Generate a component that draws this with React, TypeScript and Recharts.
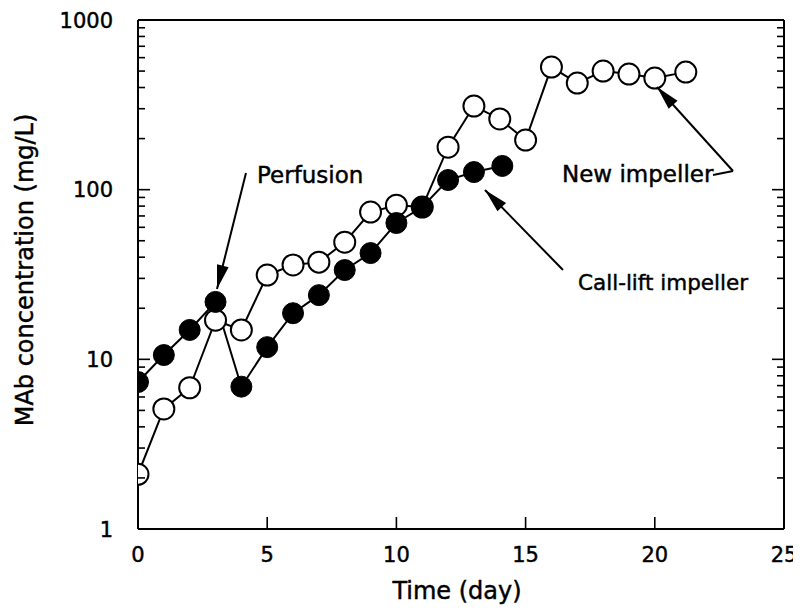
import React from "react";
import { LineChart, Line, XAxis, YAxis, ReferenceLine } from "recharts";

// Open circles ("New impeller" run)
const openDays = [0, 1, 2, 3, 4, 5, 6, 7, 8, 9, 10, 11, 12, 13, 14, 15, 16, 17, 18, 19, 20, 21.2];
const openValues = [2.1, 5.1, 6.8, 17, 14.9, 31.4, 36, 37.4, 49, 73.8, 81, 79, 178, 311, 261, 196, 528, 425, 500, 480, 455, 493];

// Filled circles ("Call-lift impeller" run)
const filledDays = [0, 1, 2, 3, 4, 5, 6, 7, 8, 9, 10, 11, 12, 13, 14.1];
const filledValues = [7.35, 10.6, 14.9, 21.8, 6.9, 11.8, 18.7, 23.9, 33.6, 42.3, 63.6, 79, 114, 127, 138];

const xTicks = [0, 5, 10, 15, 20, 25];
const yTicks = [
  1, 2, 3, 4, 5, 6, 7, 8, 9,
  10, 20, 30, 40, 50, 60, 70, 80, 90,
  100, 200, 300, 400, 500, 600, 700, 800, 900,
  1000,
];

const openData = openDays.map((d, i) => ({ day: d, v: openValues[i] }));
const filledData = filledDays.map((d, i) => ({ day: d, v: filledValues[i] }));

const FONT = "'DejaVu Sans', 'Liberation Sans', Arial, sans-serif";
const TXT = { fontFamily: FONT, fill: "#000", stroke: "#000", strokeWidth: 0.45 };

const isMajor = (v: number) => {
  const l = Math.log10(v);
  return Math.abs(l - Math.round(l)) < 1e-9;
};

const XTick = (props: any) => {
  const { x, y, payload } = props;
  const v = payload.value;
  const edge = v === 0 || v === 25;
  return (
    <g>
      {!edge && <line x1={x} y1={y} x2={x} y2={y - 12} stroke="#000" strokeWidth={1.6} />}
      <text x={x} y={y + 33} textAnchor="middle" fontSize={21} {...TXT}>
        {v}
      </text>
    </g>
  );
};

const YTickLeft = (props: any) => {
  const { x, y, payload } = props;
  const v = payload.value;
  const major = isMajor(v);
  const edge = v === 1 || v === 1000;
  return (
    <g>
      {!edge && <line x1={x} y1={y} x2={x + (major ? 12 : 7)} y2={y} stroke="#000" strokeWidth={1.6} />}
      {major && (
        <text x={x - 25} y={y + 7.5} textAnchor="end" fontSize={21} {...TXT}>
          {v}
        </text>
      )}
    </g>
  );
};

const YTickRight = (props: any) => {
  const { x, y, payload } = props;
  const v = payload.value;
  const major = isMajor(v);
  const edge = v === 1 || v === 1000;
  return (
    <g>
      {!edge && <line x1={x} y1={y} x2={x - (major ? 12 : 7)} y2={y} stroke="#000" strokeWidth={1.6} />}
    </g>
  );
};

function arrowHead(x1: number, y1: number, tx: number, ty: number, len = 24, half = 6) {
  const dx = tx - x1;
  const dy = ty - y1;
  const d = Math.sqrt(dx * dx + dy * dy);
  const ux = dx / d;
  const uy = dy / d;
  const bx = tx - ux * len;
  const by = ty - uy * len;
  const px = -uy;
  const py = ux;
  return `${tx},${ty} ${bx + px * half},${by + py * half} ${bx - px * half},${by - py * half}`;
}

const Arrow = ({ x1, y1, x2, y2 }: { x1: number; y1: number; x2: number; y2: number }) => (
  <g>
    <line x1={x1} y1={y1} x2={x2} y2={y2} stroke="#000" strokeWidth={2} />
    <polygon points={arrowHead(x1, y1, x2, y2)} fill="#000" />
  </g>
);

export default function App() {
  const W = 793;
  const H = 605;
  return (
    <div style={{ position: "relative", width: W, height: H }}>
      <LineChart width={W} height={H} margin={{ top: 12, right: 16, bottom: 0, left: 0 }}>
        <XAxis
          type="number"
          dataKey="day"
          domain={[0, 25]}
          ticks={xTicks}
          interval={0}
          height={84}
          tickSize={0}
          tickMargin={0}
          tickLine={false}
          axisLine={{ stroke: "#000", strokeWidth: 2 }}
          tick={<XTick />}
          allowDataOverflow
        />
        <YAxis
          yAxisId="left"
          type="number"
          scale="log"
          domain={[1, 1000]}
          ticks={yTicks}
          interval={0}
          width={130}
          tickSize={0}
          tickMargin={0}
          tickLine={false}
          axisLine={{ stroke: "#000", strokeWidth: 2 }}
          tick={<YTickLeft />}
          allowDataOverflow
        />
        <YAxis
          yAxisId="right"
          orientation="right"
          type="number"
          scale="log"
          domain={[1, 1000]}
          ticks={yTicks}
          interval={0}
          width={1}
          tickSize={0}
          tickMargin={0}
          tickLine={false}
          axisLine={{ stroke: "#000", strokeWidth: 2 }}
          tick={<YTickRight />}
          allowDataOverflow
        />
        <ReferenceLine yAxisId="left" y={1000} stroke="#000" strokeWidth={2} />
        <Line
          yAxisId="left"
          data={openData}
          dataKey="v"
          type="linear"
          stroke="#000"
          strokeWidth={2}
          dot={{ r: 10.5, fill: "#fff", stroke: "#000", strokeWidth: 2 }}
          activeDot={false}
          isAnimationActive={false}
        />
        <Line
          yAxisId="left"
          data={filledData}
          dataKey="v"
          type="linear"
          stroke="#000"
          strokeWidth={2}
          dot={{ r: 10.5, fill: "#000", stroke: "#000", strokeWidth: 1 }}
          activeDot={false}
          isAnimationActive={false}
        />
      </LineChart>
      <svg
        width={W}
        height={H}
        style={{ position: "absolute", left: 0, top: 0, pointerEvents: "none" }}
      >
        <text x={449} y={591} textAnchor="middle" fontSize={24} {...TXT}>
          Time (day)
        </text>
        <text
          x={25}
          y={262}
          textAnchor="middle"
          fontSize={24}
          {...TXT}
          transform="rotate(-90 25 262)"
        >
          MAb concentration (mg/L)
        </text>

        <text x={249} y={175} fontSize={23} {...TXT}>
          Perfusion
        </text>
        <Arrow x1={238} y1={165} x2={209} y2={281} />

        <text x={554} y={174} fontSize={23} {...TXT}>
          New impeller
        </text>
        <polyline points="705,167 725,163" fill="none" stroke="#000" strokeWidth={2} />
        <Arrow x1={725} y1={163} x2={649} y2={79} />

        <text x={570} y={282} fontSize={21.5} {...TXT}>
          Call-lift impeller
        </text>
        <Arrow x1={555} y1={262} x2={477} y2={182} />
      </svg>
    </div>
  );
}
